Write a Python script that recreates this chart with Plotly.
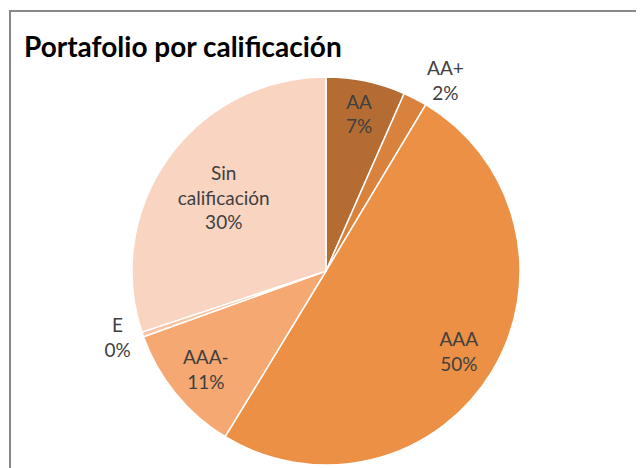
import plotly.graph_objects as go

labels = ["AA", "AA+", "AAA", "AAA-", "E", "Sin<br>calificación"]
values = [6.6, 2.0, 50.1, 10.8, 0.4, 30.1]
pct_text = ["7%", "2%", "50%", "11%", "0%", "30%"]
colors = ["#B46C33", "#D8823E", "#EC9045", "#F5A871", "#F8C4A4", "#F8D4C1"]
positions = ["inside", "outside", "inside", "inside", "outside", "inside"]
ring_group = [0, 0, 0, 0, 0, 1]  # which text overlay shows each label
ring_holes = [0.6, 0.3]

# page body has an 8px offset; positions below are in figure coordinates
dom = dict(x=[124/644, 512/644], y=[11/468, 399/468])
full_text = [f"{l}<br>{p}" for l, p in zip(labels, pct_text)]

fig = go.Figure()
fig.add_trace(go.Pie(
    labels=labels, values=values, sort=False, direction="clockwise", rotation=0,
    marker=dict(colors=colors, line=dict(color="white", width=1.5)),
    textinfo="none", domain=dom, showlegend=False, hoverinfo="label+percent",
))
for g, h in enumerate(ring_holes):
    fig.add_trace(go.Pie(
        labels=labels, values=values, sort=False, direction="clockwise", rotation=0,
        hole=h,
        marker=dict(colors=["rgba(0,0,0,0)"] * len(values), line=dict(width=0)),
        text=[t if rg == g else "" for t, rg in zip(full_text, ring_group)],
        textinfo="text", textposition=positions, insidetextorientation="horizontal",
        textfont=dict(family="Lato", size=19, color="#404040"),
        domain=dom, showlegend=False, hoverinfo="skip",
    ))

fig.update_layout(
    width=644, height=468,
    margin=dict(l=0, r=0, t=0, b=0),
    paper_bgcolor="white",
    uniformtext=dict(minsize=19, mode="show"),
    title=dict(text="<b>Portafolio por calificación</b>", x=16/644, xanchor="left",
               y=1-39/468, yanchor="middle",
               font=dict(family="Lato", size=28, color="black")),
    shapes=[dict(type="rect", xref="paper", yref="paper",
                 x0=2/644, y0=-0.05, x1=1.05, y1=1-3/468,
                 line=dict(color="#888888", width=2))],
)

fig.write_html("out.html")
